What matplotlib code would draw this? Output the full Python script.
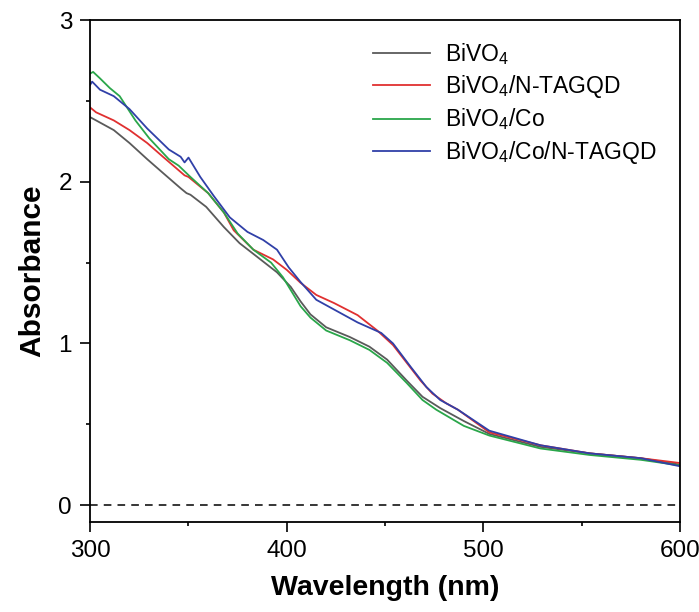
import numpy as np
import matplotlib
matplotlib.use("Agg")
import matplotlib.pyplot as plt
from matplotlib.ticker import MultipleLocator

plt.rcParams['font.family'] = ['Liberation Sans', 'DejaVu Sans']
plt.rcParams['mathtext.fontset'] = 'custom'
plt.rcParams['mathtext.rm'] = 'Liberation Sans'
plt.rcParams['mathtext.default'] = 'rm'

# values
wl_gray = [300, 303, 312, 320, 329, 337, 346, 349, 351, 359, 368, 376, 385, 395, 402, 407,
           412, 420, 432, 442, 451, 461, 469, 478, 490, 503, 529, 554, 580, 600]
a_gray = [2.40, 2.38, 2.32, 2.24, 2.14, 2.055, 1.96, 1.93, 1.92, 1.845, 1.72, 1.62, 1.535, 1.44, 1.35, 1.26,
          1.18, 1.10, 1.04, 0.98, 0.90, 0.77, 0.67, 0.60, 0.52, 0.44, 0.36, 0.32, 0.29, 0.25]

wl_red = [300, 303, 312, 320, 329, 337, 348, 350, 360, 368, 373, 383, 393, 400, 407, 415,
          424, 436, 446, 454, 461, 468, 474, 481, 487, 503, 529, 554, 580, 600]
a_red = [2.46, 2.43, 2.38, 2.32, 2.24, 2.155, 2.04, 2.03, 1.93, 1.81, 1.70, 1.58, 1.52, 1.455, 1.375, 1.30,
         1.25, 1.175, 1.08, 0.99, 0.88, 0.77, 0.69, 0.63, 0.59, 0.45, 0.37, 0.32, 0.29, 0.26]

wl_green = [300, 301.5, 305, 310, 315, 323, 330, 340, 345, 351, 360, 368, 375, 383, 392, 398, 403, 407,
            412, 420, 432, 442, 451, 461, 469, 476, 490, 503, 529, 554, 580, 600]
a_green = [2.67, 2.68, 2.64, 2.58, 2.53, 2.38, 2.27, 2.14, 2.10, 2.03, 1.93, 1.81, 1.68, 1.58, 1.50, 1.41, 1.31, 1.23,
           1.16, 1.08, 1.02, 0.96, 0.88, 0.755, 0.65, 0.59, 0.49, 0.43, 0.35, 0.31, 0.28, 0.245]

wl_blue = [300, 301, 305, 312, 320, 329, 340, 346, 348, 350, 356, 363, 371, 380, 388, 395, 401, 407,
           415, 424, 436, 448, 454, 463, 471, 478, 487, 503, 529, 554, 580, 600]
a_blue = [2.60, 2.62, 2.57, 2.53, 2.45, 2.33, 2.20, 2.155, 2.12, 2.15, 2.03, 1.91, 1.78, 1.69, 1.64, 1.58, 1.47, 1.38,
          1.27, 1.21, 1.13, 1.065, 1.00, 0.855, 0.73, 0.65, 0.59, 0.46, 0.37, 0.32, 0.29, 0.24]

labels = ['BiVO$_4$', 'BiVO$_4$/N-TAGQD', 'BiVO$_4$/Co', 'BiVO$_4$/Co/N-TAGQD']
colors = ['#5a5a5a', '#e03030', '#2aa64a', '#3040a8']

fig = plt.figure(figsize=(6.99, 6.12), dpi=100)
ax = fig.add_axes([0.129, 0.147, 0.844, 0.820])

series = [(wl_gray, a_gray), (wl_red, a_red), (wl_green, a_green), (wl_blue, a_blue)]
for (x, y), lab, c in zip(series, labels, colors):
    ax.plot(x, y, color=c, lw=1.3, label=lab)

ax.axhline(0, color='black', ls=(0, (5, 4)), lw=1.1)

ax.set_xlim(300, 600)
ax.set_ylim(-0.105, 3)
ax.xaxis.set_major_locator(MultipleLocator(100))
ax.xaxis.set_minor_locator(MultipleLocator(50))
ax.yaxis.set_major_locator(MultipleLocator(1))
ax.yaxis.set_minor_locator(MultipleLocator(0.5))
ax.tick_params(which='major', direction='out', length=7, width=1.2, labelsize=17.5, top=False, right=False)
ax.tick_params(which='minor', direction='out', length=3, width=1.2, top=False, right=False)
ax.tick_params(axis='x', pad=6)
ax.tick_params(axis='y', pad=6)
for s in ax.spines.values():
    s.set_linewidth(1.3)

ax.set_xlabel('Wavelength (nm)', fontsize=20.5, fontweight='bold', labelpad=9)
ax.set_ylabel('Absorbance', fontsize=21.5, fontweight='bold', labelpad=9)

ax.legend(loc='upper right', frameon=False, fontsize=16.5, handlelength=2.5,
          handletextpad=0.65, labelspacing=0.28, bbox_to_anchor=(0.995, 1.0))

fig.savefig('out.png', dpi=100)
